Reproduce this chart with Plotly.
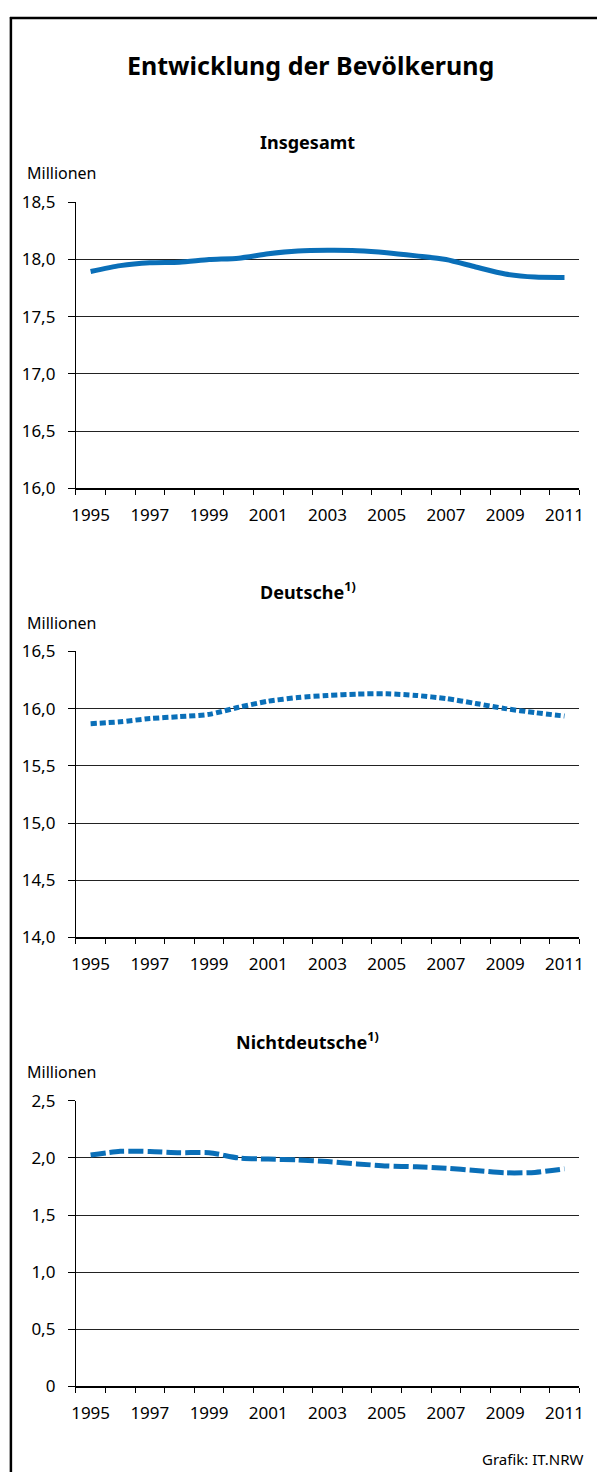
import plotly.graph_objects as go

# ---------------- data ----------------
years = list(range(1995, 2012))
insgesamt = [17.894, 17.945, 17.970, 17.975, 17.998, 18.010, 18.048, 18.072, 18.078,
             18.075, 18.058, 18.030, 17.998, 17.933, 17.872, 17.845, 17.842]
deutsche = [15.868, 15.885, 15.913, 15.930, 15.950, 16.012, 16.065, 16.097, 16.115,
            16.127, 16.130, 16.115, 16.088, 16.045, 16.000, 15.965, 15.935]
nichtdeutsche = [2.026, 2.058, 2.057, 2.046, 2.046, 2.000, 1.990, 1.983, 1.968,
                 1.948, 1.930, 1.922, 1.910, 1.890, 1.870, 1.873, 1.905]

x_tick_years = [1995, 1997, 1999, 2001, 2003, 2005, 2007, 2009, 2011]
x_tick_labels = [str(y) for y in x_tick_years]

y1_ticks = [16.0, 16.5, 17.0, 17.5, 18.0, 18.5]
y1_labels = ["16,0", "16,5", "17,0", "17,5", "18,0", "18,5"]
y2_ticks = [14.0, 14.5, 15.0, 15.5, 16.0, 16.5]
y2_labels = ["14,0", "14,5", "15,0", "15,5", "16,0", "16,5"]
y3_ticks = [0.0, 0.5, 1.0, 1.5, 2.0, 2.5]
y3_labels = ["0", "0,5", "1,0", "1,5", "2,0", "2,5"]

panel_titles = ["Insgesamt", "Deutsche<sup>1)</sup>", "Nichtdeutsche<sup>1)</sup>"]
title_text = "Entwicklung der Bevölkerung"
unit_text = "Millionen"
source_text = "Grafik: IT.NRW"

# ---------------- layout geometry ----------------
W, H = 602, 1483
FONT = "Noto Sans"
BLUE = "#0a6fb8"


def fx(p):
    return p / W


def fy(p):
    return 1 - p / H


x_left, x_right = 72, 584
tops = [193, 649.5, 1106]
bottoms = [484, 940, 1396]

fig = go.Figure()

series = [insgesamt, deutsche, nichtdeutsche]
dashes = ["solid", "6px,3px", "15px,4px"]
for i, (vals, dash) in enumerate(zip(series, dashes)):
    sfx = "" if i == 0 else str(i + 1)
    fig.add_trace(go.Scatter(
        x=years, y=vals, mode="lines",
        line=dict(color=BLUE, width=5, dash=dash, shape="spline", smoothing=0.7),
        xaxis="x" + sfx, yaxis="y" + sfx, showlegend=False, hoverinfo="skip",
    ))

yticks = [(y1_ticks, y1_labels), (y2_ticks, y2_labels), (y3_ticks, y3_labels)]
layout = dict(
    width=W, height=H,
    margin=dict(l=0, r=0, t=0, b=0),
    paper_bgcolor="white", plot_bgcolor="white",
    font=dict(family=FONT, color="black", size=17),
    showlegend=False,
)

annotations = []
shapes = []
for i in range(3):
    sfx = "" if i == 0 else str(i + 1)
    xa = "xaxis" + sfx
    ya = "yaxis" + sfx
    tv, tt = yticks[i]
    layout[xa] = dict(
        domain=[fx(x_left), fx(x_right)],
        range=[1994.5, 2011.5],
        anchor="y" + sfx,
        showline=True, linecolor="black", linewidth=2,
        showgrid=False, zeroline=False,
        tickmode="array", tickvals=x_tick_years, ticktext=x_tick_labels,
        ticks="", ticklabelstandoff=10,
        tickfont=dict(family=FONT, size=17, color="black"),
        minor=dict(tickmode="linear", tick0=1994.5, dtick=1, ticks="outside",
                   ticklen=5, tickwidth=1, tickcolor="black", showgrid=False),
        fixedrange=True,
    )
    layout[ya] = dict(
        domain=[fy(bottoms[i]), fy(tops[i])],
        range=[tv[0], tv[-1]],
        anchor="x" + sfx,
        showline=True, linecolor="black", linewidth=1,
        showgrid=True, gridcolor="#222222", gridwidth=1,
        zeroline=False,
        tickmode="array", tickvals=tv, ticktext=tt,
        ticks="outside", ticklen=7, tickwidth=1, tickcolor="black",
        ticklabelstandoff=9,
        tickfont=dict(family=FONT, size=17, color="black"),
        fixedrange=True,
    )
    annotations.append(dict(
        text="<b>" + panel_titles[i] + "</b>", xref="paper", yref="paper",
        x=fx(308), y=fy(tops[i] - 61), xanchor="center", yanchor="middle",
        showarrow=False, font=dict(family=FONT, size=18, color="black"),
    ))
    annotations.append(dict(
        text=unit_text, xref="paper", yref="paper",
        x=fx(20), y=fy(tops[i] - 29), xanchor="left", yanchor="middle",
        showarrow=False, font=dict(family=FONT, size=16, color="black"),
    ))

annotations.append(dict(
    text="<b>" + title_text + "</b>", xref="paper", yref="paper",
    x=fx(311), y=fy(54), xanchor="center", yanchor="middle",
    showarrow=False, font=dict(family=FONT, size=25, color="black"),
))
annotations.append(dict(
    text=source_text, xref="paper", yref="paper",
    x=fx(590), y=fy(1470), xanchor="right", yanchor="middle",
    showarrow=False, font=dict(family=FONT, size=15, color="black"),
))

# frame (top and left border)
shapes.append(dict(type="line", xref="paper", yref="paper",
                   x0=fx(5), x1=1.0, y0=fy(6), y1=fy(6),
                   line=dict(color="black", width=2.5)))
shapes.append(dict(type="line", xref="paper", yref="paper",
                   x0=fx(6), x1=fx(6), y0=fy(5), y1=0.0,
                   line=dict(color="black", width=2.5)))

layout["annotations"] = annotations
layout["shapes"] = shapes
fig.update_layout(**layout)

fig.write_html("out.html", include_plotlyjs=True,
               config={"displayModeBar": False, "staticPlot": True},
               post_script="document.body.style.margin='0';")
